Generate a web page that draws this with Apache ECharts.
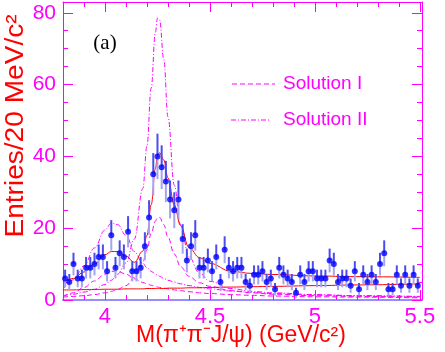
<!DOCTYPE html>
<html>
<head>
<meta charset="utf-8">
<script src="https://cdn.jsdelivr.net/npm/echarts@6/dist/echarts.min.js"></script>
<style>
  html, body { margin: 0; padding: 0; background: #fff; }
  #chart { width: 445px; height: 352px; }
</style>
</head>
<body>
<div id="chart"></div>
<script>
// bin centres (20 MeV bins) and entries per bin
const binCenters = [
  3.81, 3.83, 3.85, 3.87, 3.89, 3.91, 3.93, 3.95, 3.97, 3.99,
  4.01, 4.03, 4.05, 4.07, 4.09, 4.11, 4.13, 4.15, 4.17, 4.19,
  4.21, 4.23, 4.25, 4.27, 4.29, 4.31, 4.33, 4.35, 4.37, 4.39,
  4.41, 4.43, 4.45, 4.47, 4.49, 4.51, 4.53, 4.55, 4.57, 4.59,
  4.61, 4.63, 4.65, 4.67, 4.69, 4.71, 4.73, 4.75, 4.77, 4.79,
  4.81, 4.83, 4.85, 4.87, 4.89, 4.91, 4.93, 4.95, 4.97, 4.99,
  5.01, 5.03, 5.05, 5.07, 5.09, 5.11, 5.13, 5.15, 5.17, 5.19,
  5.21, 5.23, 5.25, 5.27, 5.29, 5.31, 5.33, 5.35, 5.37, 5.39,
  5.41, 5.43, 5.45, 5.47, 5.49
];
const counts = [
  6, 5, 10, 6, 6, 9, 9, 10, 12, 12,
  8, 18, 9, 13, 12, 19, 8, 8, 9, 15,
  23, 35, 40, 37, 33, 28, 25, 28, 17, 11,
  15, 18, 9, 9, 11, 8, 12, 5, 14, 9,
  8, 9, 9, 5, 4, 7, 7, 8, 5, 6,
  3, 9, 7, 6, 5, 2, 7, 5, 8, 8,
  6, 6, 6, 11, 10, 5, 6, 6, 4, 8,
  3, 7, 5, 7, 5, 10, 13, 3, 3, 7,
  4, 7, 4, 7, 4
];

// fit curves at these masses
const curveX = [3.80, 3.85, 3.90, 3.95, 4.00, 4.03, 4.06, 4.10, 4.14, 4.18, 4.20, 4.22, 4.24, 4.25,
                4.26, 4.28, 4.30, 4.33, 4.36, 4.40, 4.45, 4.50, 4.60, 4.70, 4.80, 5.00, 5.20, 5.50];
const totalFit = [5.0, 6.0, 7.8, 10.0, 12.6, 13.5, 13.5, 12.2, 10.5, 13.6, 18.0, 26.5, 36.5, 40.3,
                  41.0, 39.0, 34.0, 26.5, 20.7, 14.6, 11.8, 10.2, 8.0, 7.4, 7.1, 6.7, 6.5, 6.3];
const background = [2.8, 2.8, 2.9, 2.9, 3.0, 3.0, 3.0, 3.1, 3.1, 3.1, 3.2, 3.2, 3.2, 3.2,
                    3.2, 3.2, 3.3, 3.3, 3.3, 3.4, 3.4, 3.5, 3.6, 3.7, 3.8, 4.0, 4.2, 4.5];
const sol1Y4008 = [0.9, 2.0, 3.5, 5.3, 7.2, 8.0, 8.0, 7.2, 5.9, 4.9, 4.5, 4.1, 3.8, 3.6,
                   3.5, 3.3, 3.1, 2.8, 2.6, 2.3, 2.0, 1.8, 1.5, 1.3, 1.1, 0.9, 0.8, 0.6];
const sol1Y4260 = [0.8, 1.0, 1.2, 1.5, 2.0, 2.4, 3.0, 4.0, 6.3, 10.5, 14.0, 18.5, 22.0, 22.8,
                   23.0, 21.0, 17.5, 12.8, 9.3, 6.6, 4.8, 3.8, 2.6, 2.0, 1.6, 1.2, 1.0, 0.8];
const sol2Y4008 = [3.0, 5.6, 9.5, 14.5, 19.5, 21.4, 21.0, 18.0, 13.5, 10.2, 9.0, 8.0, 7.2, 6.9,
                   6.6, 6.0, 5.5, 5.0, 4.5, 4.0, 3.5, 3.1, 2.5, 2.1, 1.8, 1.4, 1.2, 1.0];
const sol2Y4260 = [1.2, 1.6, 2.2, 3.0, 4.3, 5.5, 7.2, 10.3, 17.0, 31.0, 43.0, 59.0, 74.5, 78.5,
                   78.0, 67.0, 51.0, 32.0, 21.0, 12.0, 7.5, 5.2, 3.2, 2.4, 2.0, 1.5, 1.2, 0.9];

const xMajor = [4, 4.5, 5, 5.5];
const yMajor = [0, 20, 40, 60, 80];

const MAG = '#ff00ff';
const pair = (ys) => curveX.map((x, i) => [x, ys[i]]);

function curve(name, ys, color, type) {
  return {
    name: name, type: 'line', data: pair(ys), showSymbol: false, smooth: 0.4,
    smoothMonotone: 'x', lineStyle: { color: color, width: 1, type: type }, z: 2, silent: true
  };
}

function xAx(pos, major, labels, lineColor) {
  return {
    type: 'value', position: pos, min: 3.8, max: 5.51,
    interval: 0.1,
    axisLine: { show: !major, onZero: false, lineStyle: { color: lineColor, width: pos === 'bottom' ? 2 : 1 } },
    axisTick: major
      ? { inside: true, length: 10, customValues: xMajor, lineStyle: { color: MAG } }
      : { inside: true, length: 5, lineStyle: { color: MAG } },
    axisLabel: labels
      ? { customValues: xMajor, color: MAG, fontSize: 22, margin: 6, fontFamily: 'Liberation Sans', formatter: v => String(v) }
      : { show: false },
    splitLine: { show: false }
  };
}

function yAx(pos, major, labels) {
  return {
    type: 'value', position: pos, min: 0, max: 83, interval: 5,
    axisLine: { show: !major, onZero: false, lineStyle: { color: MAG } },
    axisTick: major
      ? { inside: true, length: 10, customValues: yMajor, lineStyle: { color: MAG } }
      : { inside: true, length: 5, lineStyle: { color: MAG } },
    axisLabel: labels
      ? { customValues: yMajor, color: MAG, fontSize: 21, margin: 7, fontFamily: 'Liberation Sans' }
      : { show: false },
    splitLine: { show: false }
  };
}

const chart = echarts.init(document.getElementById('chart'));
const points = binCenters.map((x, i) => [x, counts[i]]);

const option = {
  animation: false,
  grid: { left: 63, right: 23, top: 2, bottom: 52 },
  xAxis: [xAx('bottom', false, true, '#9a8cff'), xAx('bottom', true, false), xAx('top', false, false, MAG), xAx('top', true, false)],
  yAxis: [yAx('left', false, true), yAx('left', true, false), yAx('right', false, false), yAx('right', true, false)],
  graphic: [
    { type: 'text', x: 105, y: 43, style: { text: '(a)', font: '21px "Liberation Serif"', fill: '#000', align: 'center', verticalAlign: 'middle' } },
    { type: 'line', shape: { x1: 232, y1: 84, x2: 275, y2: 84 }, style: { stroke: MAG, lineWidth: 1, lineDash: [5, 3] } },
    { type: 'text', x: 283, y: 84, style: { text: 'Solution I', font: '19px "Liberation Sans"', fill: MAG, verticalAlign: 'middle' } },
    { type: 'line', shape: { x1: 231, y1: 120, x2: 270, y2: 120 }, style: { stroke: MAG, lineWidth: 1, lineDash: [5, 2, 1, 2] } },
    { type: 'text', x: 283, y: 120, style: { text: 'Solution II', font: '19px "Liberation Sans"', fill: MAG, verticalAlign: 'middle' } },
    { type: 'text', x: 241, y: 336, style: { text: 'M(π⁺π⁻J/ψ) (GeV/c²)', font: '23px "Liberation Sans"', fill: '#ff0000', align: 'center', verticalAlign: 'middle' } },
    { type: 'text', x: 16, y: 126, rotation: Math.PI / 2, scaleX: 1.08, style: { text: 'Entries/20 MeV/c²', font: '26px "Liberation Sans"', fill: '#ff0000', align: 'center', verticalAlign: 'middle' } }
  ],
  series: [
    curve('Solution I 4008', sol1Y4008, MAG, [5, 3]),
    curve('Solution I 4260', sol1Y4260, MAG, [5, 3]),
    curve('Solution II 4008', sol2Y4008, MAG, [5, 2, 1, 2]),
    curve('Solution II 4260', sol2Y4260, MAG, [5, 2, 1, 2]),
    curve('Background', background, '#ff0000', 'solid'),
    curve('Fit', totalFit, '#ff0000', 'solid'),
    {
      type: 'custom', data: points, z: 3, silent: true,
      renderItem: function (params, api) {
        const x = api.value(0), n = api.value(1), e = Math.sqrt(n);
        const c = api.coord([x, n]), top = api.coord([x, n + e]), bot = api.coord([x, n - e]);
        return {
          type: 'group', children: [
            { type: 'line', shape: { x1: c[0], y1: c[1], x2: bot[0], y2: bot[1] }, style: { stroke: '#a4a4f0', lineWidth: 2 } },
            { type: 'line', shape: { x1: c[0], y1: c[1], x2: top[0], y2: top[1] }, style: { stroke: '#4b4bf0', lineWidth: 2 } }
          ]
        };
      }
    },
    { type: 'scatter', data: points, symbolSize: 6, itemStyle: { color: '#0000ff' }, z: 4, silent: true }
  ]
};
chart.setOption(option);
</script>
</body>
</html>
